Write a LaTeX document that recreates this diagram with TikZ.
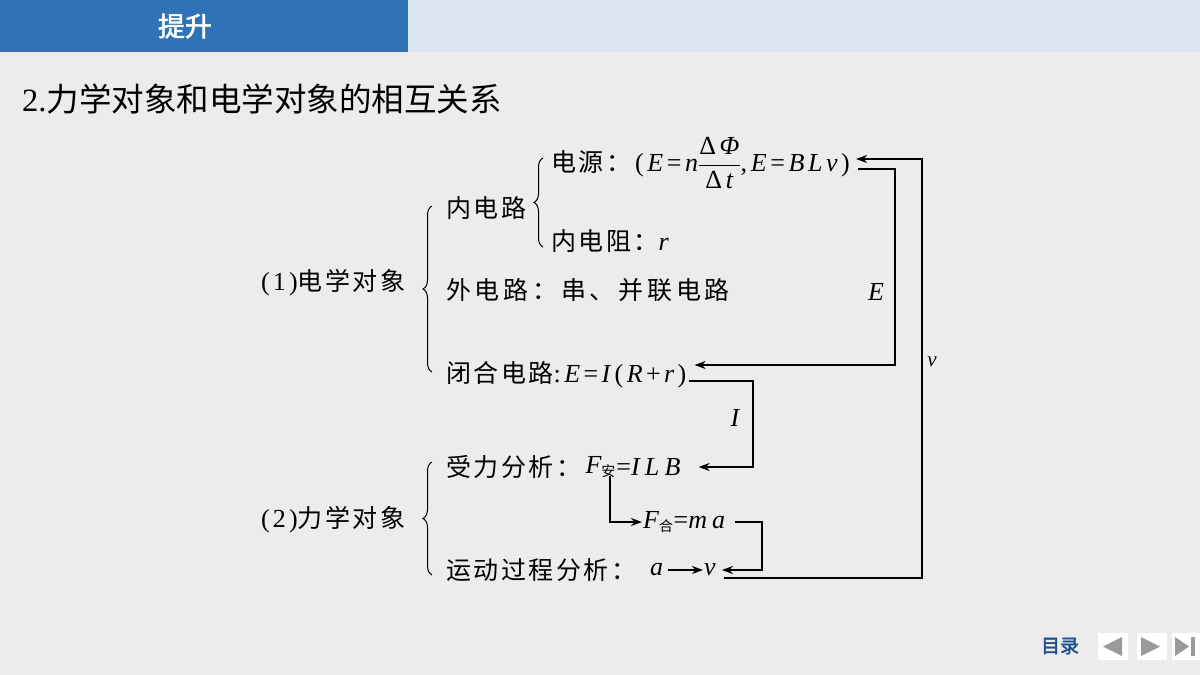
\RequirePackage{fix-cm}
\documentclass[tikz,border=0pt]{standalone}
\usepackage{fontspec}
\setmainfont{Liberation Serif}
\newfontfamily\cjk[LetterSpace=10]{Noto Sans CJK SC}
\newfontfamily\cjkwide[LetterSpace=15]{Noto Sans CJK SC}
\newfontfamily\cjkplain{Noto Sans CJK SC}
\newfontfamily\cjkbold[FakeBold=2]{Noto Sans CJK SC}
\newfontfamily\mt[LetterSpace=12]{Liberation Serif}
\newfontfamily\mtw[LetterSpace=20]{Liberation Serif}
\usetikzlibrary{arrows.meta,decorations.pathreplacing,calc}
\definecolor{barblue}{HTML}{2F72B5}
\definecolor{barlight}{HTML}{DCE6F2}
\definecolor{navblue}{HTML}{1F4E8C}
\definecolor{bggrey}{HTML}{ECECEC}
\definecolor{trigrey}{HTML}{9A9A9A}
\newcommand{\bodysize}{\fontsize{25}{29}\selectfont}
\newcommand{\fsz}{\fontsize{26}{30}\selectfont}
\newcommand{\fsx}{\fontsize{26}{30}\selectfont}
\newcommand{\kk}{\kern3.6pt}
\newcommand{\kj}{\kern3.4pt}
\newcommand{\subcjk}[1]{\hbox{\fontsize{14}{14}\selectfont\cjkplain #1}}
\tikzset{
  txt/.style={inner sep=0pt, anchor=west, font=\bodysize},
  arr/.style={line width=1.4pt, black, -{Stealth[length=11pt,width=8pt,inset=3.5pt]}},
  brc/.style={decorate, line width=1pt, decoration={brace, amplitude=9pt}},
  lbl/.style={inner sep=0pt, font=\fsz\mt\itshape},
}
\begin{document}
\begin{tikzpicture}[x=1pt,y=-1pt]
\useasboundingbox (0,0) rectangle (1200,675);
% background
\fill[bggrey] (0,0) rectangle (1200,675);
\fill[barlight] (408,0) rectangle (1200,52);
\fill[barblue] (0,0) rectangle (408,52);
\node[inner sep=0pt, text=white, font={\fontsize{27}{30}\selectfont\cjkbold}] (hdr) at (185,26) {提升};
\node[inner sep=0pt, anchor=west, font={\fontsize{32.5}{36}\selectfont}] (title) at (22,99) {2.{\cjkplain 力学对象和电学对象的相互关系}};

% left labels
\node[txt] (el) at (261,283) {{\mt\fsz (1)}{\cjk 电学对象}};
\node[txt] (me) at (261,520) {{\mt\fsz (2)}{\cjk 力学对象}};

% electrical branch
\node[txt] (nei) at (446,208) {\cjk 内电路};
\node[txt] (dy) at (551,163) {{\cjk 电源：}{\fsx\kern4pt(\kk\textit{E}\kk=\kk\textit{n}}$\displaystyle\frac{\hbox{\fsx Δ\kk\textit{Φ}}}{\hbox{\fsx Δ\kk\textit{t}}}${\fsx ,\kk\textit{E}\kk=\kk\textit{B}\kk\textit{L}\kk\textit{v}\kk)}};
\node[txt] (ndz) at (551,241) {{\cjk 内电阻：}{\mt\fsz\itshape r}};
\node[txt] (wdl) at (446,290) {\cjkwide 外电路：串、并联电路};
\node[txt] (bh) at (446,375) {{\cjk 闭合电路}{\fsx :\kj\textit{E}\kj=\kj\textit{I}\kj(\kj\textit{R}\kj+\kj\textit{r}\kj)}};

% mechanical branch
\node[txt] (sl) at (446,467) {\cjk 受力分析：};
\node[txt] (fa) at ([xshift=4pt]sl.east) {{\mt\fsz\itshape F}$_{\subcjk{安}}$};
\node[txt] (ilb) at (fa.east) {{\mtw\fsz =\itshape ILB}};
\node[txt] (fh) at (643,522) {{\mt\fsz\itshape F}$_{\subcjk{合}}${\mtw\fsz =\itshape ma}};
\node[txt] (yd) at (446,570) {\cjk 运动过程分析：};
\node[txt] (aa) at (650,570) {\mt\fsz\itshape a};
\node[txt] (vv) at (704,570) {\mt\fsz\itshape v};

% braces
\draw[brc] (432,372) -- (432,206);
\draw[brc] (432,575) -- (432,462);
\draw[brc] (543,247) -- (543,158);

% connectors
\draw[arr] ([xshift=8pt,yshift=-6pt]dy.east) -| (895,300) |- ([xshift=8pt,yshift=10pt]bh.east);
\draw[arr] ([xshift=8pt,yshift=-8pt]vv.east) -| (922,360) |- ([xshift=6pt,yshift=4pt]dy.east);
\draw[arr] ([xshift=2pt,yshift=-6pt]bh.east) -| (753,420) |- ([xshift=18pt]ilb.east);
\draw[arr] ([xshift=-6pt,yshift=2pt]fa.south east) |- ([xshift=-1pt]fh.west);
\draw[arr] ([xshift=10pt]fh.east) -| (762,545) |- ([xshift=6pt]vv.east);
\draw[arr] ([xshift=5pt]aa.east) -- ([xshift=-1pt]vv.west);

% labels
\node[lbl] (lE) at (876,292) {E};
\node[lbl] (lI) at (735,418) {I};
\node[lbl, font=\fontsize{21}{24}\selectfont\mt\itshape] (lv) at (932,362) {v};

% navigation
\node[inner sep=0pt, text=navblue, font={\fontsize{19}{22}\selectfont\cjkbold}] (ml) at (1060,646) {目录};
\fill[white] (1098,633) rectangle (1128,660);
\fill[white] (1137,633) rectangle (1167,660);
\fill[white] (1172,633) rectangle (1200,660);
\fill[trigrey] (1103,646.5) -- (1122,637) -- (1122,656) -- cycle;
\fill[trigrey] (1141,637) -- (1160,646.5) -- (1141,656) -- cycle;
\fill[trigrey] (1175,637) -- (1189,646.5) -- (1175,656) -- cycle;
\fill[trigrey] (1191,637) rectangle (1195,656);
\end{tikzpicture}
\end{document}
